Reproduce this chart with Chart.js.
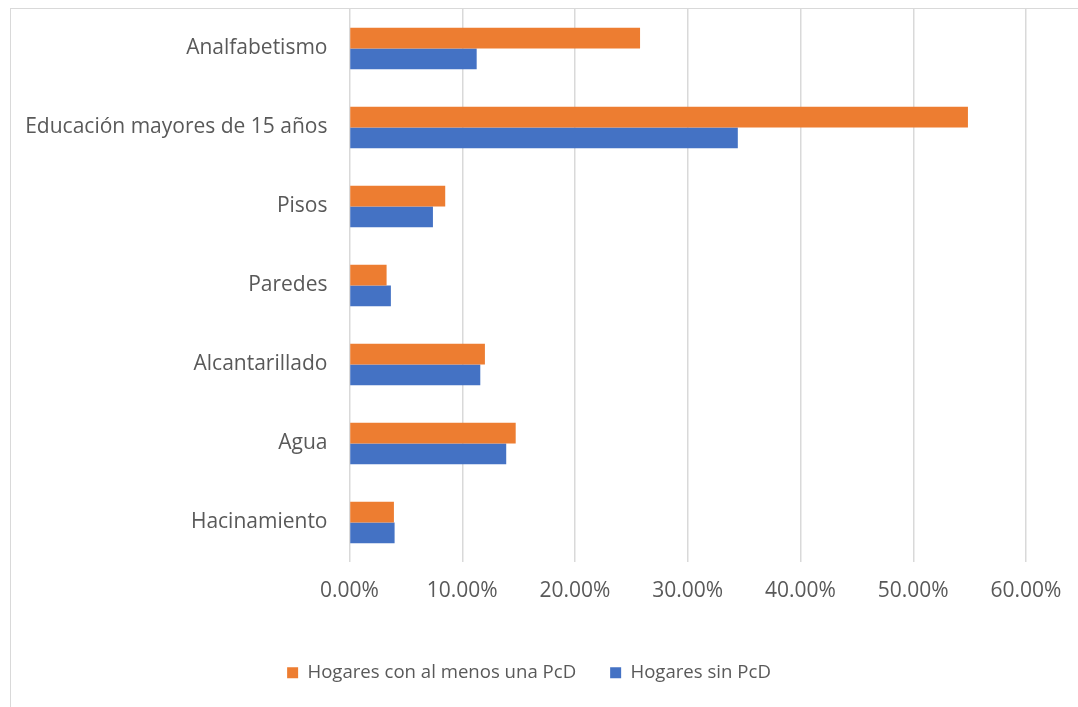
<!DOCTYPE html>
<html>
<head>
<meta charset="utf-8">
<script src="https://cdn.jsdelivr.net/npm/chart.js@4/dist/chart.umd.min.js"></script>
<style>
  html, body { margin: 0; padding: 0; background: #fff; }
  #wrap { position: relative; width: 1078px; height: 707px; }
  #frame { position: absolute; left: 10px; top: 8px; width: 1080px; height: 710px;
           border-left: 1px solid #d9d9d9; border-top: 1px solid #d9d9d9; pointer-events: none; }
  canvas { position: absolute; left: 0; top: 0; }
</style>
</head>
<body>
<div id="wrap">
  <canvas id="c" width="1078" height="707"></canvas>
  <div id="frame"></div>
</div>
<script>
const categories = ["Analfabetismo", "Educación mayores de 15 años", "Pisos", "Paredes", "Alcantarillado", "Agua", "Hacinamiento"];
const seriesNames = ["Hogares con al menos una PcD", "Hogares sin PcD"];
const conPcD = [25.77, 54.85, 8.49, 3.29, 12.01, 14.74, 3.94];
const sinPcD = [11.28, 34.44, 7.40, 3.67, 11.60, 13.90, 4.00];
const xTicks = [0, 10, 20, 30, 40, 50, 60];

const FONT = "'Open Sans', sans-serif";
const TXT = "#595959";

const legendShift = {
  id: 'legendShift',
  afterLayout(chart) {
    if (chart.legend) { chart.legend.left += 32; }
  }
};

new Chart(document.getElementById('c'), {
  type: 'bar',
  data: {
    labels: categories,
    datasets: [
      { label: seriesNames[0], data: conPcD, backgroundColor: '#ED7D31', borderWidth: 0,
        categoryPercentage: 0.524, barPercentage: 1.0 },
      { label: seriesNames[1], data: sinPcD, backgroundColor: '#4472C4', borderWidth: 0,
        categoryPercentage: 0.524, barPercentage: 1.0 }
    ]
  },
  plugins: [legendShift],
  options: {
    indexAxis: 'y',
    responsive: false,
    animation: false,
    layout: { padding: { left: 0, right: 52, top: 9, bottom: 15 } },
    scales: {
      x: {
        min: xTicks[0], max: xTicks[xTicks.length - 1],
        afterBuildTicks: (s) => { s.ticks = xTicks.map(v => ({ value: v })); },
        afterFit: (s) => { s.height = 67.4; s.paddingLeft = 0; s.paddingRight = 0; },
        grid: { color: '#d9d9d9', lineWidth: 1.5, drawTicks: false },
        border: { display: false },
        ticks: {
          color: TXT, font: { family: FONT, size: 21 }, padding: 16,
          callback: (v) => Number(v).toFixed(2) + '%'
        }
      },
      y: {
        afterFit: (s) => { s.width = 349.5; s.paddingTop = 0; s.paddingBottom = 0; },
        grid: { display: false, drawTicks: false },
        border: { display: false },
        ticks: { color: TXT, font: { family: FONT, size: 21 }, padding: 22, autoSkip: false }
      }
    },
    plugins: {
      legend: {
        position: 'bottom',
        labels: { color: TXT, font: { family: FONT, size: 18.6 }, boxWidth: 11, boxHeight: 11, padding: 34 }
      },
      tooltip: { enabled: false }
    }
  }
});
</script>
</body>
</html>
